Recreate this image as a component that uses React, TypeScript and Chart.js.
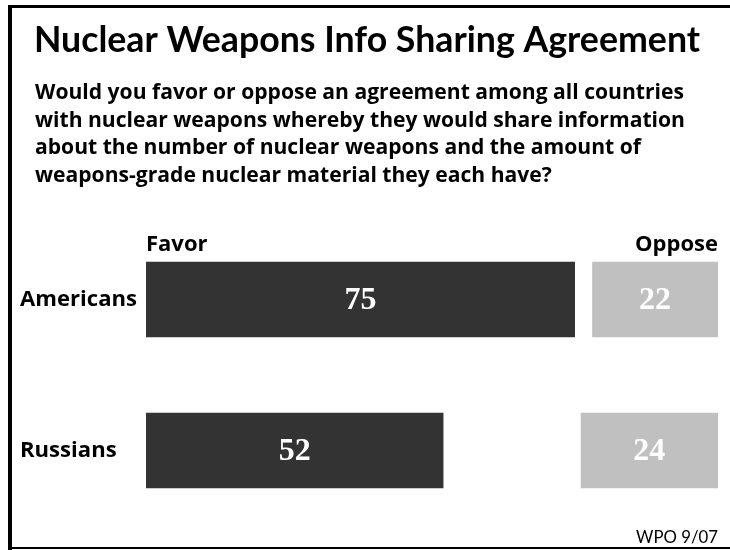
import React, { useEffect, useRef } from "react";
import { Chart, registerables } from "chart.js";

Chart.register(...registerables);

const categories = ["Americans", "Russians"];
const favor = [75, 52];
const oppose = [22, 24];
const seriesLabels = ["Favor", "Oppose"];
const scaleMax = 100;
const titleText = "Nuclear Weapons Info Sharing Agreement";
const subtitleLines = [
  "Would you favor or oppose an agreement among all countries",
  "with nuclear weapons whereby they would share information",
  "about the number of nuclear weapons and the amount of",
  "weapons-grade nuclear material they each have?",
];
const sourceText = "WPO 9/07";

const TITLE_FONT = "Lato, 'Noto Sans', sans-serif";
const SANS = "'Open Sans', 'Noto Sans', sans-serif";
const SERIF = "'Liberation Serif', 'DejaVu Serif', serif";

function fitSize(text: string, family: string, weight: string, target: number) {
  const c = document.createElement("canvas").getContext("2d")!;
  c.font = `${weight} 100px ${family}`;
  const w = c.measureText(text).width;
  return Math.round((100 * target) / w * 10) / 10;
}

export default function App() {
  const ref = useRef<HTMLCanvasElement>(null);
  useEffect(() => {
    if (!ref.current) return;
    const titleSize = fitSize(titleText, TITLE_FONT, "bold", 666);
    const subSize = fitSize(subtitleLines[0], SANS, "bold", 650);
    const catSize = fitSize(categories[0], SANS, "bold", 117);
    const headSize = fitSize(seriesLabels[1], SANS, "bold", 83);
    const srcSize = fitSize(sourceText, TITLE_FONT, "normal", 82);

    const decorPlugin = {
      id: "decor",
      afterDraw(chart: any) {
        const ctx = chart.ctx;
        const area = chart.chartArea;
        ctx.save();
        ctx.fillStyle = "#000";
        ctx.fillRect(8, 5, 4, 545);
        ctx.fillRect(8, 5, 722, 3);
        ctx.fillRect(8, 547, 722, 2);

        ctx.textBaseline = "alphabetic";
        ctx.textAlign = "center";
        ctx.font = `bold ${titleSize}px ${TITLE_FONT}`;
        ctx.fillText(titleText, 367, 52);

        ctx.textAlign = "left";
        ctx.font = `bold ${subSize}px ${SANS}`;
        subtitleLines.forEach((line, i) => {
          ctx.fillText(line, 35, 99 + i * 27.5);
        });

        ctx.font = `bold ${headSize}px ${SANS}`;
        ctx.textAlign = "left";
        ctx.fillText(seriesLabels[0], area.left, 251);
        ctx.textAlign = "right";
        ctx.fillText(seriesLabels[1], area.right, 251);

        ctx.fillStyle = "#fff";
        ctx.font = `bold 32px ${SERIF}`;
        ctx.textAlign = "center";
        ctx.textBaseline = "middle";
        const values = [favor, oppose];
        chart.data.datasets.forEach((_ds: any, di: number) => {
          const meta = chart.getDatasetMeta(di);
          meta.data.forEach((bar: any, i: number) => {
            const cx = (bar.x + bar.base) / 2;
            ctx.fillText(String(values[di][i]), cx, bar.y + 1);
          });
        });

        ctx.fillStyle = "#000";
        ctx.textBaseline = "alphabetic";
        ctx.textAlign = "right";
        ctx.font = `${srcSize}px ${TITLE_FONT}`;
        ctx.fillText(sourceText, area.right, 543);
        ctx.restore();
      },
    };

    const chart = new Chart(ref.current, {
      type: "bar",
      data: {
        labels: categories,
        datasets: [
          {
            label: seriesLabels[0],
            data: favor,
            backgroundColor: "#333333",
            grouped: false,
            barPercentage: 0.5,
            categoryPercentage: 1,
          } as any,
          {
            label: seriesLabels[1],
            data: oppose.map((v) => [scaleMax - v, scaleMax]),
            backgroundColor: "#c0c0c0",
            grouped: false,
            barPercentage: 0.5,
            categoryPercentage: 1,
          } as any,
        ],
      },
      options: {
        indexAxis: "y",
        responsive: false,
        animation: false,
        layout: { padding: { left: 20, right: 12, top: 224, bottom: 24 } },
        plugins: {
          legend: { display: false },
          tooltip: { enabled: false },
          title: { display: false },
        },
        scales: {
          x: { display: false, min: 0, max: scaleMax },
          y: {
            grid: { display: false },
            border: { display: false },
            ticks: {
              crossAlign: "far",
              color: "#000",
              font: { family: SANS, weight: "bold", size: catSize },
            },
            afterFit(scale: any) {
              scale.width = 126;
            },
          } as any,
        },
      },
      plugins: [decorPlugin],
    });
    return () => chart.destroy();
  }, []);
  return (
    <div style={{ position: "absolute", left: 0, top: 0, width: 730, height: 550, background: "#fff" }}>
      <canvas ref={ref} width={730} height={550} />
    </div>
  );
}
